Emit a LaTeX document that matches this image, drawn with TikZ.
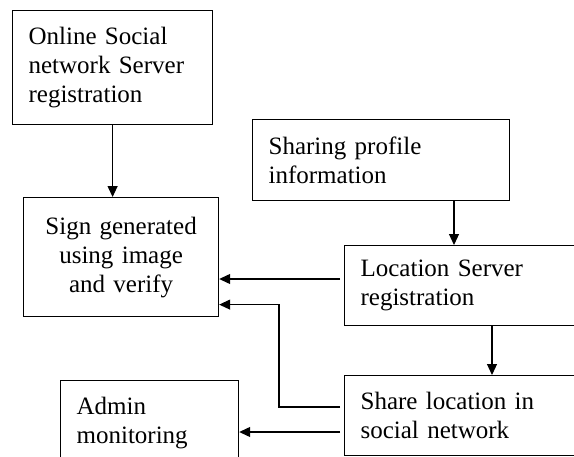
\documentclass[tikz,border=0pt]{standalone}
\usepackage{fontspec}
\setmainfont{Liberation Serif}
\usetikzlibrary{arrows.meta}
\tikzset{
  boxnode/.style={draw, line width=1.2pt, anchor=north west, inner xsep=16pt, inner ysep=0pt,
    align=left, font=\fontsize{25}{29}\selectfont},
  arr/.style={line width=1.2pt, -{Triangle[length=11pt,width=10pt]}},
}
\begin{document}
\begin{tikzpicture}[x=1pt,y=-1pt]
\useasboundingbox (0,0) rectangle (574,456);
\clip (0,0) rectangle (574,456);
\node[boxnode, text width=168pt, minimum height=114pt] (b1) at (12,10)
  {Online Social\\network Server\\registration};
\node[boxnode, align=center, inner xsep=4pt, text width=187pt, minimum height=119pt, yshift=2pt] (b2) at (23,199)
  {Sign generated\\using image\\and verify};
\node[boxnode, text width=225pt, minimum height=81pt] (b3) at (252,119)
  {Sharing profile\\information};
\node[boxnode, text width=218pt, minimum height=80pt] (b4) at (344,245)
  {Location Server\\registration};
\node[boxnode, text width=218pt, minimum height=80pt] (b5) at (344,375)
  {Share location in\\social network};
\node[boxnode, text width=146pt, minimum height=85pt] (b6) at (60,380)
  {Admin\\monitoring};
\coordinate (elb) at (279,407);
\draw[arr] (b1.south) -- (b1.south |- b2.north);
\draw[arr] ([xshift=202pt]b3.south west) -- ([xshift=202pt]b3.south west |- b4.north);
\draw[arr] ([xshift=148pt]b4.south west) -- ([xshift=148pt]b4.south west |- b5.north);
\draw[arr, shorten <=4pt] ([yshift=-34pt]b4.north west) -- ([yshift=-34pt]b4.north west -| b2.east);
\draw[arr, shorten <=4pt] ([yshift=-32pt]b5.north west) -- (elb) |- ([yshift=-47.5pt]b2.east);
\draw[arr, shorten <=4pt] ([yshift=-57pt]b5.north west) -- ([yshift=-57pt]b5.north west -| b6.east);
\end{tikzpicture}
\end{document}
